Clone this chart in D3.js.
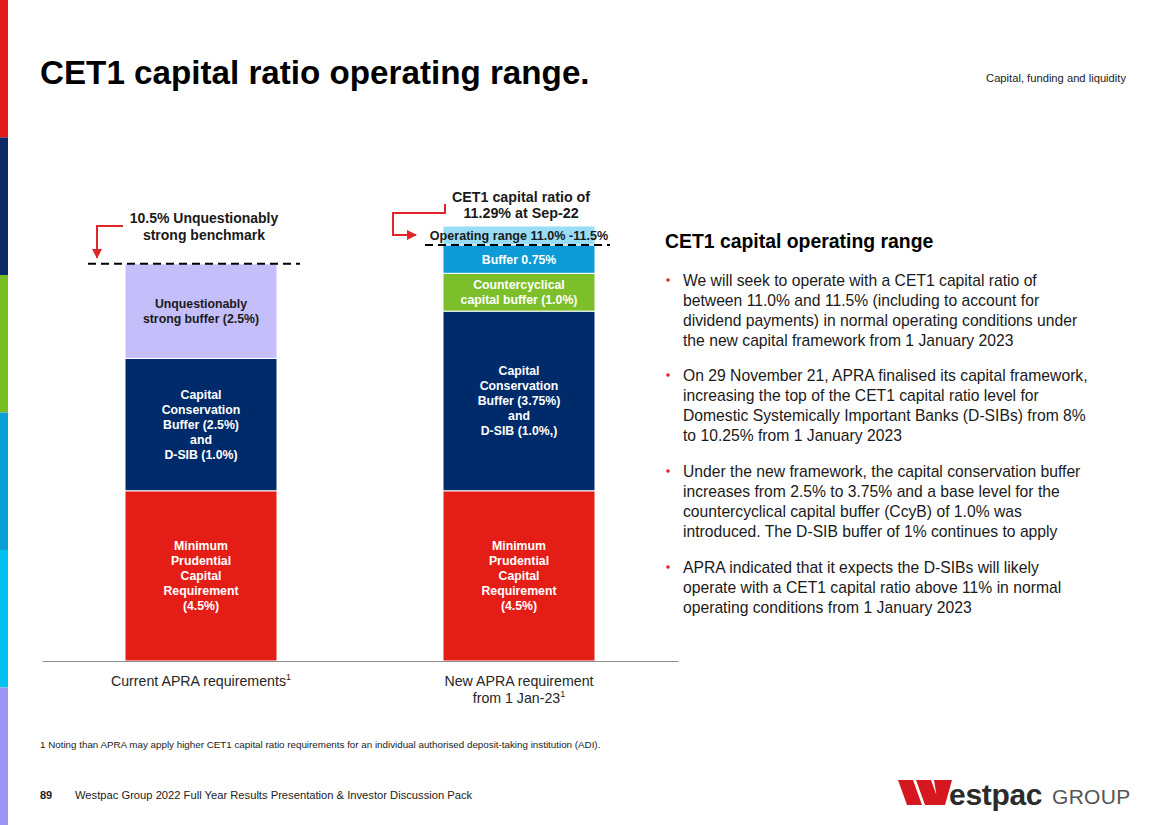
<!DOCTYPE html>
<html>
<head>
<meta charset="utf-8">
<script src="https://cdn.jsdelivr.net/npm/d3@7"></script>
<style>
  html, body { margin: 0; padding: 0; background: #fff; }
  svg { display: block; font-family: "Liberation Sans", Arial, sans-serif; }
</style>
</head>
<body>
<svg id="chart" width="1168" height="825"></svg>
<script>
// ---------- data ----------
const categories = ["Current APRA requirements", "New APRA requirement from 1 Jan-23"];
const minimumReq   = [4.5, 4.5];
const ccbDsib      = [3.5, 4.75];
const ccyb         = [0, 1.0];
const unquestion   = [2.5, 0];
const buffer       = [0, 0.75];
const operating    = [0, 0.5];
const benchmarks   = [10.5, 11.0];
const segmentKeys  = ["minimumReq", "ccbDsib", "ccyb", "unquestion", "buffer", "operating"];
const segmentLabels = {
  minimumReq: [["Minimum", "Prudential", "Capital", "Requirement", "(4.5%)"], ["Minimum", "Prudential", "Capital", "Requirement", "(4.5%)"]],
  ccbDsib: [["Capital", "Conservation", "Buffer (2.5%)", "and", "D-SIB (1.0%)"], ["Capital", "Conservation", "Buffer (3.75%)", "and", "D-SIB (1.0%,)"]],
  ccyb: [[], ["Countercyclical", "capital buffer (1.0%)"]],
  unquestion: [["Unquestionably", "strong buffer (2.5%)"], []],
  buffer: [[], ["Buffer 0.75%"]],
  operating: [[], ["Operating range 11.0% -11.5%"]]
};
const xLabels = [["Current APRA requirements"], ["New APRA requirement", "from 1 Jan-23"]];
const bullets = [
  ["We will seek to operate with a CET1 capital ratio of", "between 11.0% and 11.5% (including to account for", "dividend payments) in normal operating conditions under", "the new capital framework from 1 January 2023"],
  ["On 29 November 21, APRA finalised its capital framework,", "increasing the top of the CET1 capital ratio level for", "Domestic Systemically Important Banks (D-SIBs) from 8%", "to 10.25% from 1 January 2023"],
  ["Under the new framework, the capital conservation buffer", "increases from 2.5% to 3.75% and a base level for the", "countercyclical capital buffer (CcyB) of 1.0% was", "introduced. The D-SIB buffer of 1% continues to apply"],
  ["APRA indicated that it expects the D-SIBs will likely", "operate with a CET1 capital ratio above 11% in normal", "operating conditions from 1 January 2023"]
];

// ---------- styles ----------
const colors = {
  minimumReq: "#e41e17", ccbDsib: "#002b6b", ccyb: "#7dbf2a",
  unquestion: "#c4befb", buffer: "#0d9ad6", operating: "#98dcf6"
};
const labelColor = { minimumReq: "#fff", ccbDsib: "#fff", ccyb: "#fff", unquestion: "#1a1a1a", buffer: "#fff", operating: "#1a1a1a" };
const labelSize = { minimumReq: 12.3, ccbDsib: 12.3, ccyb: 12.3, unquestion: 12.3, buffer: 12.3, operating: 12.6 };
const stripColors = ["#e31b1b", "#0a2a66", "#78be20", "#0b9fd6", "#00c1f0", "#9d92f7"];
const RED = "#e0262b";

const svg = d3.select("#chart");

// side strip
const stripScale = d3.scaleBand().domain(d3.range(stripColors.length)).range([0, 825]);
svg.selectAll("rect.strip").data(stripColors).join("rect")
  .attr("x", 0).attr("width", 8)
  .attr("y", (d, i) => stripScale(i)).attr("height", stripScale.bandwidth())
  .attr("fill", d => d);

// title + header
svg.append("text").attr("x", 40).attr("y", 84)
  .attr("font-size", 33.2).attr("font-weight", "bold").attr("fill", "#000")
  .text("CET1 capital ratio operating range.");
svg.append("text").attr("x", 1126).attr("y", 82).attr("text-anchor", "end")
  .attr("font-size", 11.2).attr("fill", "#222").text("Capital, funding and liquidity");

// ---------- chart ----------
const x = d3.scaleBand().domain(categories).range([42, 678]).paddingInner(0.522).paddingOuter(0.261);
const y = d3.scaleLinear().domain([0, 11.5]).range([661, 226]);

const table = categories.map((c, i) => ({
  category: c, minimumReq: minimumReq[i], ccbDsib: ccbDsib[i], ccyb: ccyb[i],
  unquestion: unquestion[i], buffer: buffer[i], operating: operating[i]
}));
const stacked = d3.stack().keys(segmentKeys)(table);

const g = svg.append("g");
stacked.forEach(layer => {
  layer.forEach((d, i) => {
    if (d[1] - d[0] <= 0) return;
    const cat = categories[i];
    const x0 = x(cat), bw = x.bandwidth();
    g.append("rect")
      .attr("x", x0).attr("width", bw)
      .attr("y", y(d[1])).attr("height", y(d[0]) - y(d[1]))
      .attr("fill", colors[layer.key])
      .attr("stroke", "#fff").attr("stroke-width", 1);
    const lines = segmentLabels[layer.key][i];
    const cy = (y(d[0]) + y(d[1])) / 2;
    const lh = 15;
    const t = g.append("text")
      .attr("text-anchor", "middle")
      .attr("font-size", labelSize[layer.key]).attr("font-weight", "bold")
      .attr("fill", labelColor[layer.key]);
    lines.forEach((ln, k) => {
      t.append("tspan").attr("x", x0 + bw / 2)
        .attr("y", cy + (k - (lines.length - 1) / 2) * lh + 4.5)
        .text(ln);
    });
  });
});

// baseline axis
const axis = d3.axisBottom(x).tickSize(0).tickFormat("");
const axG = svg.append("g").attr("transform", `translate(0,${y(0)})`).call(axis);
axG.select(".domain").attr("stroke", "#8c8c8c").attr("stroke-width", 1.2);

// x labels
categories.forEach((c, i) => {
  const cx = x(c) + x.bandwidth() / 2;
  const lines = xLabels[i];
  const t = svg.append("text").attr("text-anchor", "middle").attr("font-size", 14.2).attr("fill", "#262626");
  lines.forEach((ln, k) => {
    const ts = t.append("tspan").attr("x", cx).attr("y", 686 + k * 17).text(ln);
    if (k === lines.length - 1) ts.append("tspan").attr("font-size", 9).attr("dy", -6).text("1");
  });
});

// benchmark dashed lines
const dashSpan = [[88, 300], [425, 610]];
benchmarks.forEach((b, i) => {
  svg.append("line")
    .attr("x1", dashSpan[i][0]).attr("x2", dashSpan[i][1])
    .attr("y1", y(b)).attr("y2", y(b))
    .attr("stroke", "#000").attr("stroke-width", 2).attr("stroke-dasharray", "8,5");
});

// arrow marker
svg.append("defs").append("marker").attr("id", "arr")
  .attr("viewBox", "0 0 10 10").attr("refX", 9).attr("refY", 5)
  .attr("markerWidth", 5).attr("markerHeight", 5).attr("orient", "auto")
  .append("path").attr("d", "M0,0 L10,5 L0,10 z").attr("fill", RED);

// left annotation
const ann1 = svg.append("text").attr("text-anchor", "middle").attr("font-size", 14).attr("font-weight", "bold").attr("fill", "#1a1a1a");
["10.5% Unquestionably", "strong benchmark"].forEach((ln, k) =>
  ann1.append("tspan").attr("x", 204).attr("y", 223 + k * 17).text(ln));
svg.append("path")
  .attr("d", `M123,226 L97,226 L97,${y(10.5) - 6}`)
  .attr("fill", "none").attr("stroke", RED).attr("stroke-width", 2)
  .attr("marker-end", "url(#arr)");

// right annotation
const ann2 = svg.append("text").attr("text-anchor", "middle").attr("font-size", 14.3).attr("font-weight", "bold").attr("fill", "#1a1a1a");
["CET1 capital ratio of", "11.29% at Sep-22"].forEach((ln, k) =>
  ann2.append("tspan").attr("x", 521).attr("y", 202 + k * 16).text(ln));
svg.append("path")
  .attr("d", "M445,204 L445,213 L393,213 L393,235 L416,235")
  .attr("fill", "none").attr("stroke", RED).attr("stroke-width", 2)
  .attr("marker-end", "url(#arr)");

// ---------- right text ----------
svg.append("text").attr("x", 665).attr("y", 248).attr("font-size", 19.4).attr("font-weight", "bold").attr("fill", "#000")
  .text("CET1 capital operating range");
const bulletStarts = [280, 375, 471, 567];
bullets.forEach((lines, i) => {
  svg.append("circle").attr("cx", 668).attr("cy", bulletStarts[i]).attr("r", 1.8).attr("fill", RED);
  const t = svg.append("text").attr("font-size", 15.7).attr("fill", "#1a1a1a");
  lines.forEach((ln, k) => t.append("tspan").attr("x", 683).attr("y", bulletStarts[i] + 5.5 + k * 20).text(ln));
});

// footnote + footer
svg.append("text").attr("x", 40).attr("y", 748).attr("font-size", 9.8).attr("fill", "#222")
  .text("1 Noting than APRA may apply higher CET1 capital ratio requirements for an individual authorised deposit-taking institution (ADI).");
svg.append("text").attr("x", 40).attr("y", 799).attr("font-size", 11).attr("font-weight", "bold").attr("fill", "#222").text("89");
svg.append("text").attr("x", 75).attr("y", 799).attr("font-size", 11.2).attr("fill", "#222")
  .text("Westpac Group 2022 Full Year Results Presentation & Investor Discussion Pack");

// logo
const logo = svg.append("g");
logo.append("path").attr("fill", "#d5181f")
  .attr("d", "M898,780 L913,780 L922,805 L907,805 Z M916,780 L931,780 L940,805 L925,805 Z M934,780 L952,780 L945,805 L938,805 Z");
logo.append("text").attr("x", 949).attr("y", 805).attr("font-size", 30).attr("font-weight", "bold")
  .attr("fill", "#2b2b2b").attr("letter-spacing", -0.3).text("estpac");
logo.append("text").attr("x", 1052).attr("y", 804).attr("font-size", 21)
  .attr("fill", "#555").attr("letter-spacing", 0.3).text("GROUP");
</script>
</body>
</html>
